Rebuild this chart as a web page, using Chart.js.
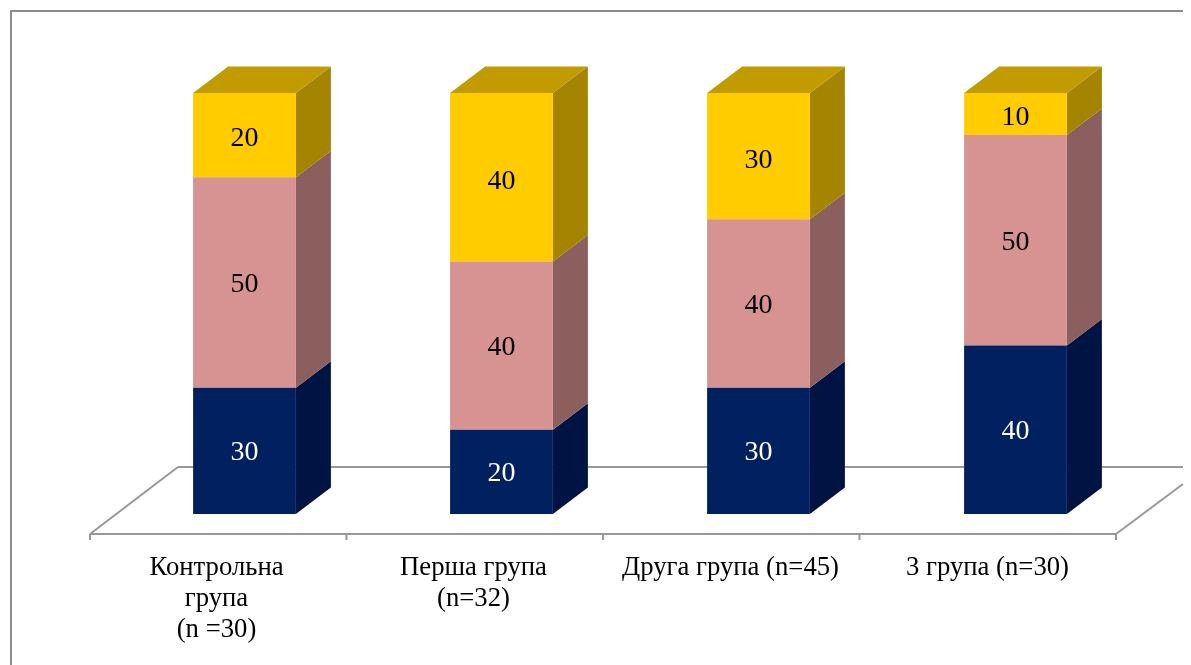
<!DOCTYPE html>
<html>
<head>
<meta charset="utf-8">
<title>Групи</title>
<script src="https://cdn.jsdelivr.net/npm/chart.js@4/dist/chart.umd.min.js"></script>
<style>
    html, body { margin: 0; padding: 0; background: #fff; overflow: hidden; }
    canvas { display: block; }
</style>
</head>
<body>
<canvas id="groupsChart" width="1191" height="665"></canvas>
<script>
// Values per group, stacked bottom to top
const categories = [['Контрольна', 'група', '(n =30)'], ['Перша група', '(n=32)'], 'Друга група (n=45)', '3 група (n=30)'];
const bottomValues = [30, 20, 30, 40];
const middleValues = [50, 40, 40, 50];
const topValues = [20, 40, 30, 10];

const FONT = '"Liberation Serif", "Times New Roman", serif';
const LINE_COLOR = '#989898';
const FRAME_COLOR = '#8c8c8c';

// Depth of the fake 3D extrusion
const DEPTH_X = 35;
const DEPTH_Y = 26.5;
// The floor's front edge sits this far left of the bars
const FLOOR_SHIFT = 26;

const faceColors = ['#002060', '#D79392', '#FFCC00'];
const sideColors = ['#001443', '#8B5F5E', '#A48400'];
const capColor = '#C29B00';
const labelColors = ['#ffffff', '#000000', '#000000'];
// Value labels sit a little below the middle of each segment
const labelShift = [2, 2, 4];

function line(ctx, x1, y1, x2, y2) {
    ctx.beginPath();
    ctx.moveTo(x1, y1);
    ctx.lineTo(x2, y2);
    ctx.stroke();
}

function polygon(ctx, pts, color) {
    ctx.fillStyle = color;
    ctx.beginPath();
    pts.forEach((p, i) => i ? ctx.lineTo(p[0], p[1]) : ctx.moveTo(p[0], p[1]));
    ctx.closePath();
    ctx.fill();
}

const box3d = {
    id: 'box3d',
    beforeDatasetsDraw(chart) {
        const ctx = chart.ctx;
        const area = chart.chartArea;
        const step = area.width / categories.length;
        const frontY = area.bottom + 20;
        const backY = frontY - 67;
        const frontLeft = area.left - FLOOR_SHIFT;
        const frontRight = frontLeft + step * categories.length - 2;
        const clipRight = 1183;

        ctx.save();

        // Outer frame, open on the right and at the bottom
        ctx.strokeStyle = FRAME_COLOR;
        ctx.lineWidth = 2;
        line(ctx, 11, 665, 11, 11);
        line(ctx, 10, 11, clipRight, 11);

        // Floor plane and tick marks
        ctx.strokeStyle = LINE_COLOR;
        line(ctx, frontLeft, frontY, frontRight, frontY);
        line(ctx, frontLeft, frontY, frontLeft + 88, backY);
        line(ctx, frontLeft + 88, backY, clipRight, backY);
        line(ctx, frontRight, frontY, clipRight, frontY - 50);
        for (let i = 0; i <= categories.length; i++) {
            const x = frontLeft + i * (frontRight - frontLeft) / categories.length;
            line(ctx, x, frontY, x, frontY + 6);
        }

        // Side faces for every segment, then the cap on the top one
        chart.data.datasets.forEach((ds, d) => {
            chart.getDatasetMeta(d).data.forEach(bar => {
                const right = bar.x + bar.width / 2;
                polygon(ctx, [
                    [right, bar.y],
                    [right + DEPTH_X, bar.y - DEPTH_Y],
                    [right + DEPTH_X, bar.base - DEPTH_Y],
                    [right, bar.base]
                ], sideColors[d]);
                if (d === chart.data.datasets.length - 1) {
                    const left = bar.x - bar.width / 2;
                    polygon(ctx, [
                        [left, bar.y],
                        [left + DEPTH_X, bar.y - DEPTH_Y],
                        [right + DEPTH_X, bar.y - DEPTH_Y],
                        [right, bar.y]
                    ], capColor);
                }
            });
        });
        ctx.restore();
    },
    afterDatasetsDraw(chart) {
        const ctx = chart.ctx;
        ctx.save();
        ctx.font = '28px ' + FONT;
        ctx.textAlign = 'center';
        ctx.textBaseline = 'middle';
        chart.data.datasets.forEach((ds, d) => {
            ctx.fillStyle = labelColors[d];
            chart.getDatasetMeta(d).data.forEach((bar, i) => {
                ctx.fillText(String(ds.data[i]), bar.x, (bar.y + bar.base) / 2 + labelShift[d]);
            });
        });
        ctx.restore();
    }
};

new Chart(document.getElementById('groupsChart'), {
    type: 'bar',
    data: {
        labels: categories,
        datasets: [
            { data: bottomValues, backgroundColor: faceColors[0] },
            { data: middleValues, backgroundColor: faceColors[1] },
            { data: topValues, backgroundColor: faceColors[2] }
        ]
    },
    options: {
        responsive: false,
        animation: false,
        layout: { padding: { left: 116, right: 47, top: 93, bottom: 0 } },
        datasets: { bar: { categoryPercentage: 1, barPercentage: 0.4 } },
        plugins: { legend: { display: false }, tooltip: { enabled: false } },
        scales: {
            x: {
                stacked: true,
                afterFit(scale) { scale.height = 151; },
                border: { display: false },
                grid: { display: false, drawTicks: false },
                ticks: {
                    autoSkip: false,
                    maxRotation: 0,
                    minRotation: 0,
                    padding: 39,
                    labelOffset: -FLOOR_SHIFT - 2,
                    color: '#000',
                    font: { family: FONT, size: 26.7, lineHeight: 1.16 }
                }
            },
            y: {
                stacked: true,
                display: false,
                min: 0,
                max: 100
            }
        }
    },
    plugins: [box3d]
});
</script>
</body>
</html>
